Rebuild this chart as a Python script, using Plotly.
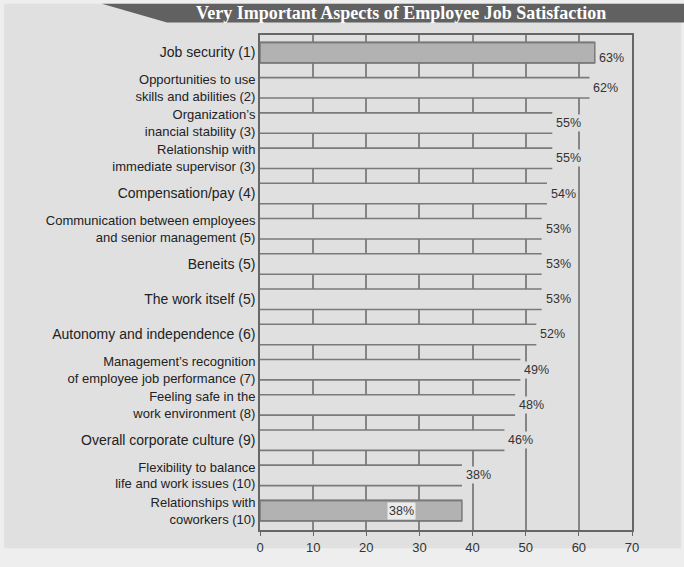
import plotly.graph_objects as go

categories = [
    "Job security (1)",
    "Opportunities to use<br>skills and abilities (2)",
    "Organization’s<br>inancial stability (3)",
    "Relationship with<br>immediate supervisor (3)",
    "Compensation/pay (4)",
    "Communication between employees<br>and senior management (5)",
    "Beneits (5)",
    "The work itself (5)",
    "Autonomy and independence (6)",
    "Management’s recognition<br>of employee job performance (7)",
    "Feeling safe in the<br>work environment (8)",
    "Overall corporate culture (9)",
    "Flexibility to balance<br>life and work issues (10)",
    "Relationships with<br>coworkers (10)",
]
values = [63, 62, 55, 55, 54, 53, 53, 53, 52, 49, 48, 46, 38, 38]
x_ticks = [0, 10, 20, 30, 40, 50, 60, 70]

BG = "#e0e0e0"
OUTER = "#eeeeee"
DARK = "#b2b2b2"
EDGE = "#7a7a7a"
BARW = 0.58
FONT = "Liberation Sans, Arial"

n = len(values)
idx = list(range(n))
fills = [DARK] + [BG] * (n - 2) + [DARK]
line_w = [1.5] + [0] * (n - 2) + [1.5]
ticktext = [c if "<br>" in c else f'<span style="font-size:14px">{c}</span>' for c in categories]

fig = go.Figure()
fig.add_trace(go.Bar(
    x=values, y=idx, orientation="h", width=BARW,
    marker=dict(color=fills, line=dict(color=EDGE, width=line_w)),
    hoverinfo="skip", showlegend=False,
))

# top and bottom edges of each bar
ex, ey = [], []
for i, v in zip(idx, values):
    for off in (-BARW / 2, BARW / 2):
        ex += [0, v, None]
        ey += [i + off, i + off, None]
fig.add_trace(go.Scatter(x=ex, y=ey, mode="lines",
                         line=dict(color=EDGE, width=1.6),
                         hoverinfo="skip", showlegend=False))

# value labels
for i, v in zip(idx[:-1], values[:-1]):
    fig.add_annotation(x=v, y=i, text=f"{v}%", showarrow=False,
                       xanchor="left", xshift=2, yshift=(-5 if i == 0 else 0),
                       bgcolor=BG, borderpad=1,
                       font=dict(size=12.5, color="#333333", family=FONT))
fig.add_annotation(x=values[-1] * 0.7, y=idx[-1], text=f"{values[-1]}%",
                   showarrow=False, bgcolor="#ebebeb", borderpad=1,
                   font=dict(size=12.5, color="#333333", family=FONT))

# decorations: frame and title banner (paper coords)
fig.add_shape(type="rect", xref="paper", yref="paper", x0=-0.688, x1=1.132, y0=-0.037, y1=1.063,
              layer="below", line=dict(width=0), fillcolor=BG)
fig.add_shape(type="path", xref="paper", yref="paper", layer="below",
              path="M -0.425,1.063 L 1.15,1.063 L 1.15,1.0255 L -0.25,1.0255 Z",
              line=dict(width=0), fillcolor="#616161")
fig.add_annotation(xref="paper", yref="paper", x=0.379, y=1.045, yanchor="middle",
                   text="<b>Very Important Aspects of Employee Job Satisfaction</b>",
                   showarrow=False,
                   font=dict(family="Liberation Serif, Times New Roman", size=18, color="white"))

fig.update_layout(
    width=684, height=567,
    margin=dict(l=260, r=52, t=35, b=23),
    paper_bgcolor=OUTER, plot_bgcolor=BG,
    font=dict(family=FONT, size=13, color="#222222"),
    xaxis=dict(range=[0, 70], tickvals=x_ticks, showgrid=True, gridcolor="#858585",
               gridwidth=1.5, showline=True, linecolor="#666666", linewidth=2,
               mirror=True, ticks="outside", ticklen=4, tickcolor="#666666",
               tickfont=dict(size=13, color="#333333"), zeroline=False),
    yaxis=dict(range=[n - 0.45, -0.5], tickvals=idx, ticktext=ticktext,
               showgrid=False, showline=True, linecolor="#666666", linewidth=2,
               mirror=True, ticks="", zeroline=False,
               tickfont=dict(size=13, color="#222222")),
)

fig.write_html("out.html")
